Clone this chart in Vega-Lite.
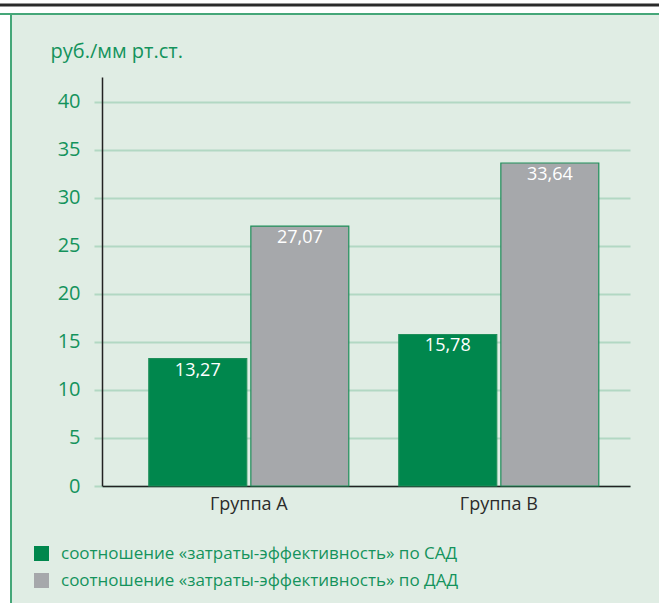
{
  "$schema": "https://vega.github.io/schema/vega-lite/v6.json",
  "autosize": "none",
  "width": 528,
  "height": 409,
  "padding": {"left": 102, "top": 77, "right": 29, "bottom": 117},
  "background": "#e0ede4",
  "data": {
    "values": [
      {"group": "Группа А", "series": "соотношение «затраты-эффективность» по САД", "value": 13.27, "label": "13,27"},
      {"group": "Группа А", "series": "соотношение «затраты-эффективность» по ДАД", "value": 27.07, "label": "27,07"},
      {"group": "Группа В", "series": "соотношение «затраты-эффективность» по САД", "value": 15.78, "label": "15,78"},
      {"group": "Группа В", "series": "соотношение «затраты-эффективность» по ДАД", "value": 33.64, "label": "33,64"}
    ]
  },
  "encoding": {
    "x": {
      "field": "group", "type": "nominal", "sort": null,
      "scale": {"paddingInner": 0.2, "paddingOuter": 0.156, "align": 0.6},
      "axis": {"title": null, "labelAngle": 0, "ticks": false, "labelPadding": 9, "labelFontSize": 18, "labelColor": "#2b2b2b", "labelFont": "Open Sans", "domainColor": "#222222", "domainWidth": 1.5, "grid": false}
    },
    "xOffset": {
      "field": "series", "type": "nominal", "sort": null,
      "scale": {"paddingInner": 0.04, "paddingOuter": 0}
    },
    "y": {
      "field": "value", "type": "quantitative",
      "scale": {"domain": [0, 42.6], "nice": false},
      "axis": {
        "values": [0, 5, 10, 15, 20, 25, 30, 35, 40],
        "title": "руб./мм рт.ст.", "titleAngle": 0, "titleAlign": "left", "titleBaseline": "alphabetic",
        "titleX": -52, "titleY": -20, "titleFontSize": 20, "titleFontWeight": "normal", "titleColor": "#14935c", "titleFont": "Open Sans",
        "labelFontSize": 20, "labelColor": "#14935c", "labelFont": "Open Sans", "labelPadding": 14,
        "grid": true, "gridColor": "#b2d8c3", "gridWidth": 2,
        "tickColor": "#b2d8c3", "tickSize": 8, "tickWidth": 2,
        "domainColor": "#222222", "domainWidth": 1.5
      }
    }
  },
  "layer": [
    {
      "mark": {"type": "bar", "stroke": "#1f8f5a", "strokeWidth": 1.2},
      "encoding": {
        "color": {
          "field": "series", "type": "nominal", "sort": null,
          "scale": {"range": ["#00874d", "#a6a8ab"]},
          "legend": {
            "title": null, "orient": "none", "legendX": -69, "legendY": 468,
            "symbolType": "square", "symbolSize": 225, "symbolStrokeWidth": 0,
            "labelFontSize": 17, "labelColor": "#14935c", "labelFont": "Open Sans",
            "labelOffset": 11, "rowPadding": 9, "labelLimit": 560
          }
        }
      }
    },
    {
      "mark": {"type": "text", "color": "white", "baseline": "top", "dy": 3, "fontSize": 18, "font": "Open Sans"},
      "encoding": {"text": {"field": "label"}}
    },
    {
      "mark": {"type": "point", "opacity": 0, "filled": true},
      "encoding": {
        "fill": {
          "field": "value", "type": "quantitative",
          "scale": {"domain": [0, 40], "range": ["#ffffff", "#ffffff"], "nice": false, "zero": false},
          "legend": {
            "type": "gradient", "direction": "vertical", "title": null, "orient": "none",
            "legendX": -112, "legendY": -63, "padding": 0,
            "gradientLength": 616, "gradientThickness": 21,
            "gradientStrokeColor": "#45a779", "gradientStrokeWidth": 2,
            "labelExpr": "''", "labelOpacity": 0
          }
        }
      }
    },
    {
      "mark": {"type": "point", "opacity": 0},
      "encoding": {
        "stroke": {
          "field": "value", "type": "quantitative",
          "scale": {"domain": [0, 7.99, 8, 10, 10.01, 18], "range": ["#ffffff", "#ffffff", "#2a2a2a", "#2a2a2a", "#ffffff", "#ffffff"], "nice": false, "zero": false},
          "legend": {
            "type": "gradient", "direction": "vertical", "title": null, "orient": "none",
            "legendX": -112, "legendY": -81, "padding": 0,
            "gradientLength": 18, "gradientThickness": 680,
            "gradientStrokeColor": "#45a779", "gradientStrokeWidth": 2,
            "labelExpr": "''", "labelOpacity": 0
          }
        }
      }
    }
  ],
  "config": {"view": {"stroke": null}}
}
